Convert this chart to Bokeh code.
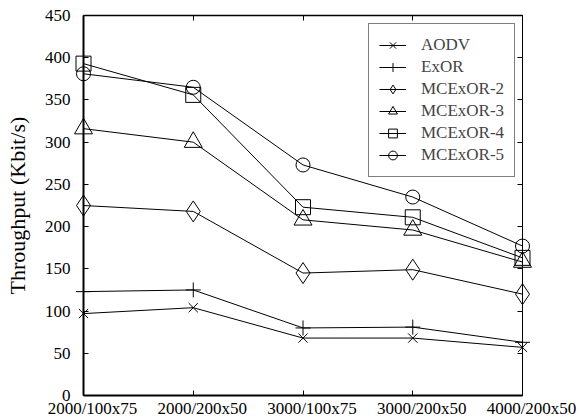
from bokeh.plotting import figure
from bokeh.models import Range1d, FixedTicker, LinearAxis, Legend, LegendItem
from bokeh.embed import file_html
from bokeh.resources import INLINE

# ---- data ----
scenarios = ["2000/100x75", "2000/200x50", "3000/100x75", "3000/200x50", "4000/200x50"]
aodv = [97, 104, 68, 68, 57]
exor = [123, 125, 80, 81, 63]
mcexor2 = [225, 218, 145, 149, 120]
mcexor3 = [316, 300, 208, 196, 158]
mcexor4 = [393, 356, 223, 211, 163]
mcexor5 = [381, 365, 273, 235, 177]
series_names = ["AODV", "ExOR", "MCExOR-2", "MCExOR-3", "MCExOR-4", "MCExOR-5"]
series_values = [aodv, exor, mcexor2, mcexor3, mcexor4, mcexor5]
y_ticks = [0, 50, 100, 150, 200, 250, 300, 350, 400, 450]
y_label = "Throughput (Kbit/s)"

# ---- style / layout ----
FONT = "Liberation Serif"
markers = ["x", "cross", "diamond", "triangle", "square", "circle"]
sizes = [13, 15, 21, 18, 15, 14]

W, H = 580, 420
BOX_L, BOX_R, BOX_T, BOX_B = 83, 522, 15, 395   # pixel box of the axes
PADX, PADY = 12, 3                                # frame extends beyond the box
LABEL_SHIFT = 9                                   # x tick labels sit a bit right

idx = list(range(len(scenarios)))
x0, x1 = idx[0], idx[-1]
y0, y1 = y_ticks[0], y_ticks[-1]
ppx = (BOX_R - BOX_L) / (x1 - x0)
ppy = (BOX_B - BOX_T) / (y1 - y0)
px, py = PADX / ppx, PADY / ppy
shift = LABEL_SHIFT / ppx

p = figure(width=W, height=H, output_backend="svg", toolbar_location=None,
           x_range=Range1d(x0 - px, x1 + px), y_range=Range1d(y0 - py, y1 + py),
           x_axis_type=None, y_axis_type=None,
           min_border_left=BOX_L - PADX, min_border_right=W - BOX_R - PADX,
           min_border_top=BOX_T - PADY, min_border_bottom=H - BOX_B - PADY)
p.extra_x_ranges = {"labels": Range1d(x0 - px - shift, x1 + px - shift)}
p.outline_line_color = None
p.background_fill_color = "white"
p.border_fill_color = "white"

xt = FixedTicker(ticks=idx, minor_ticks=[])
yt = FixedTicker(ticks=y_ticks, minor_ticks=[])

# box rules + inward ticks (axes fixed inside the frame, no labels)
def rule_axis(ax, width):
    ax.axis_line_color = "black"
    ax.axis_line_width = width
    ax.major_tick_in = 5
    ax.major_tick_out = 0
    ax.minor_tick_in = 0
    ax.minor_tick_out = 0
    ax.major_tick_line_color = "black"
    ax.major_tick_line_width = 1
    ax.major_label_text_color = None
    ax.major_label_standoff = 0

for side, tk, loc, bnd, w in [("below", xt, y0, (x0, x1), 2),
                              ("above", xt, y1, (x0, x1), 1.5),
                              ("left", yt, x0, (y0, y1), 2),
                              ("right", yt, x1, (y0, y1), 1)]:
    ax = LinearAxis(ticker=tk, fixed_location=loc, bounds=bnd)
    rule_axis(ax, w)
    p.add_layout(ax, side)

# label-only axes in the side panels
def label_axis(ax):
    ax.axis_line_color = None
    ax.major_tick_line_color = None
    ax.minor_tick_line_color = None
    ax.major_tick_in = 0
    ax.major_tick_out = 0
    ax.minor_tick_in = 0
    ax.minor_tick_out = 0
    ax.major_label_text_font = FONT
    ax.major_label_text_font_size = "17px"
    ax.major_label_text_color = "black"

xb = LinearAxis(ticker=xt, x_range_name="labels",
                major_label_overrides={i: s for i, s in zip(idx, scenarios)})
label_axis(xb)
xb.major_label_standoff = 0
p.add_layout(xb, "below")

yl = LinearAxis(ticker=yt, axis_label=y_label)
label_axis(yl)
yl.major_label_standoff = 1
yl.axis_label_text_font = FONT
yl.axis_label_text_font_style = "normal"
yl.axis_label_text_font_size = "22px"
yl.axis_label_text_color = "black"
yl.axis_label_standoff = 12
p.add_layout(yl, "left")

items = []
for name, vals, m, s in zip(series_names, series_values, markers, sizes):
    rl = p.line(idx, vals, line_color="black", line_width=1)
    rm = p.scatter(idx, vals, marker=m, size=s, fill_color=None,
                   line_color="black", line_width=1)
    items.append(LegendItem(label=name, renderers=[rl, rm]))

legend = Legend(items=items, location=(297, 221), margin=0, padding=10, spacing=0,
                glyph_width=27, glyph_height=22, label_height=22, label_standoff=15,
                label_text_font=FONT, label_text_font_size="17px",
                border_line_color="black", border_line_width=1.5,
                background_fill_color="white", background_fill_alpha=1)
p.add_layout(legend)

open("out.html", "w").write(file_html(p, INLINE))
